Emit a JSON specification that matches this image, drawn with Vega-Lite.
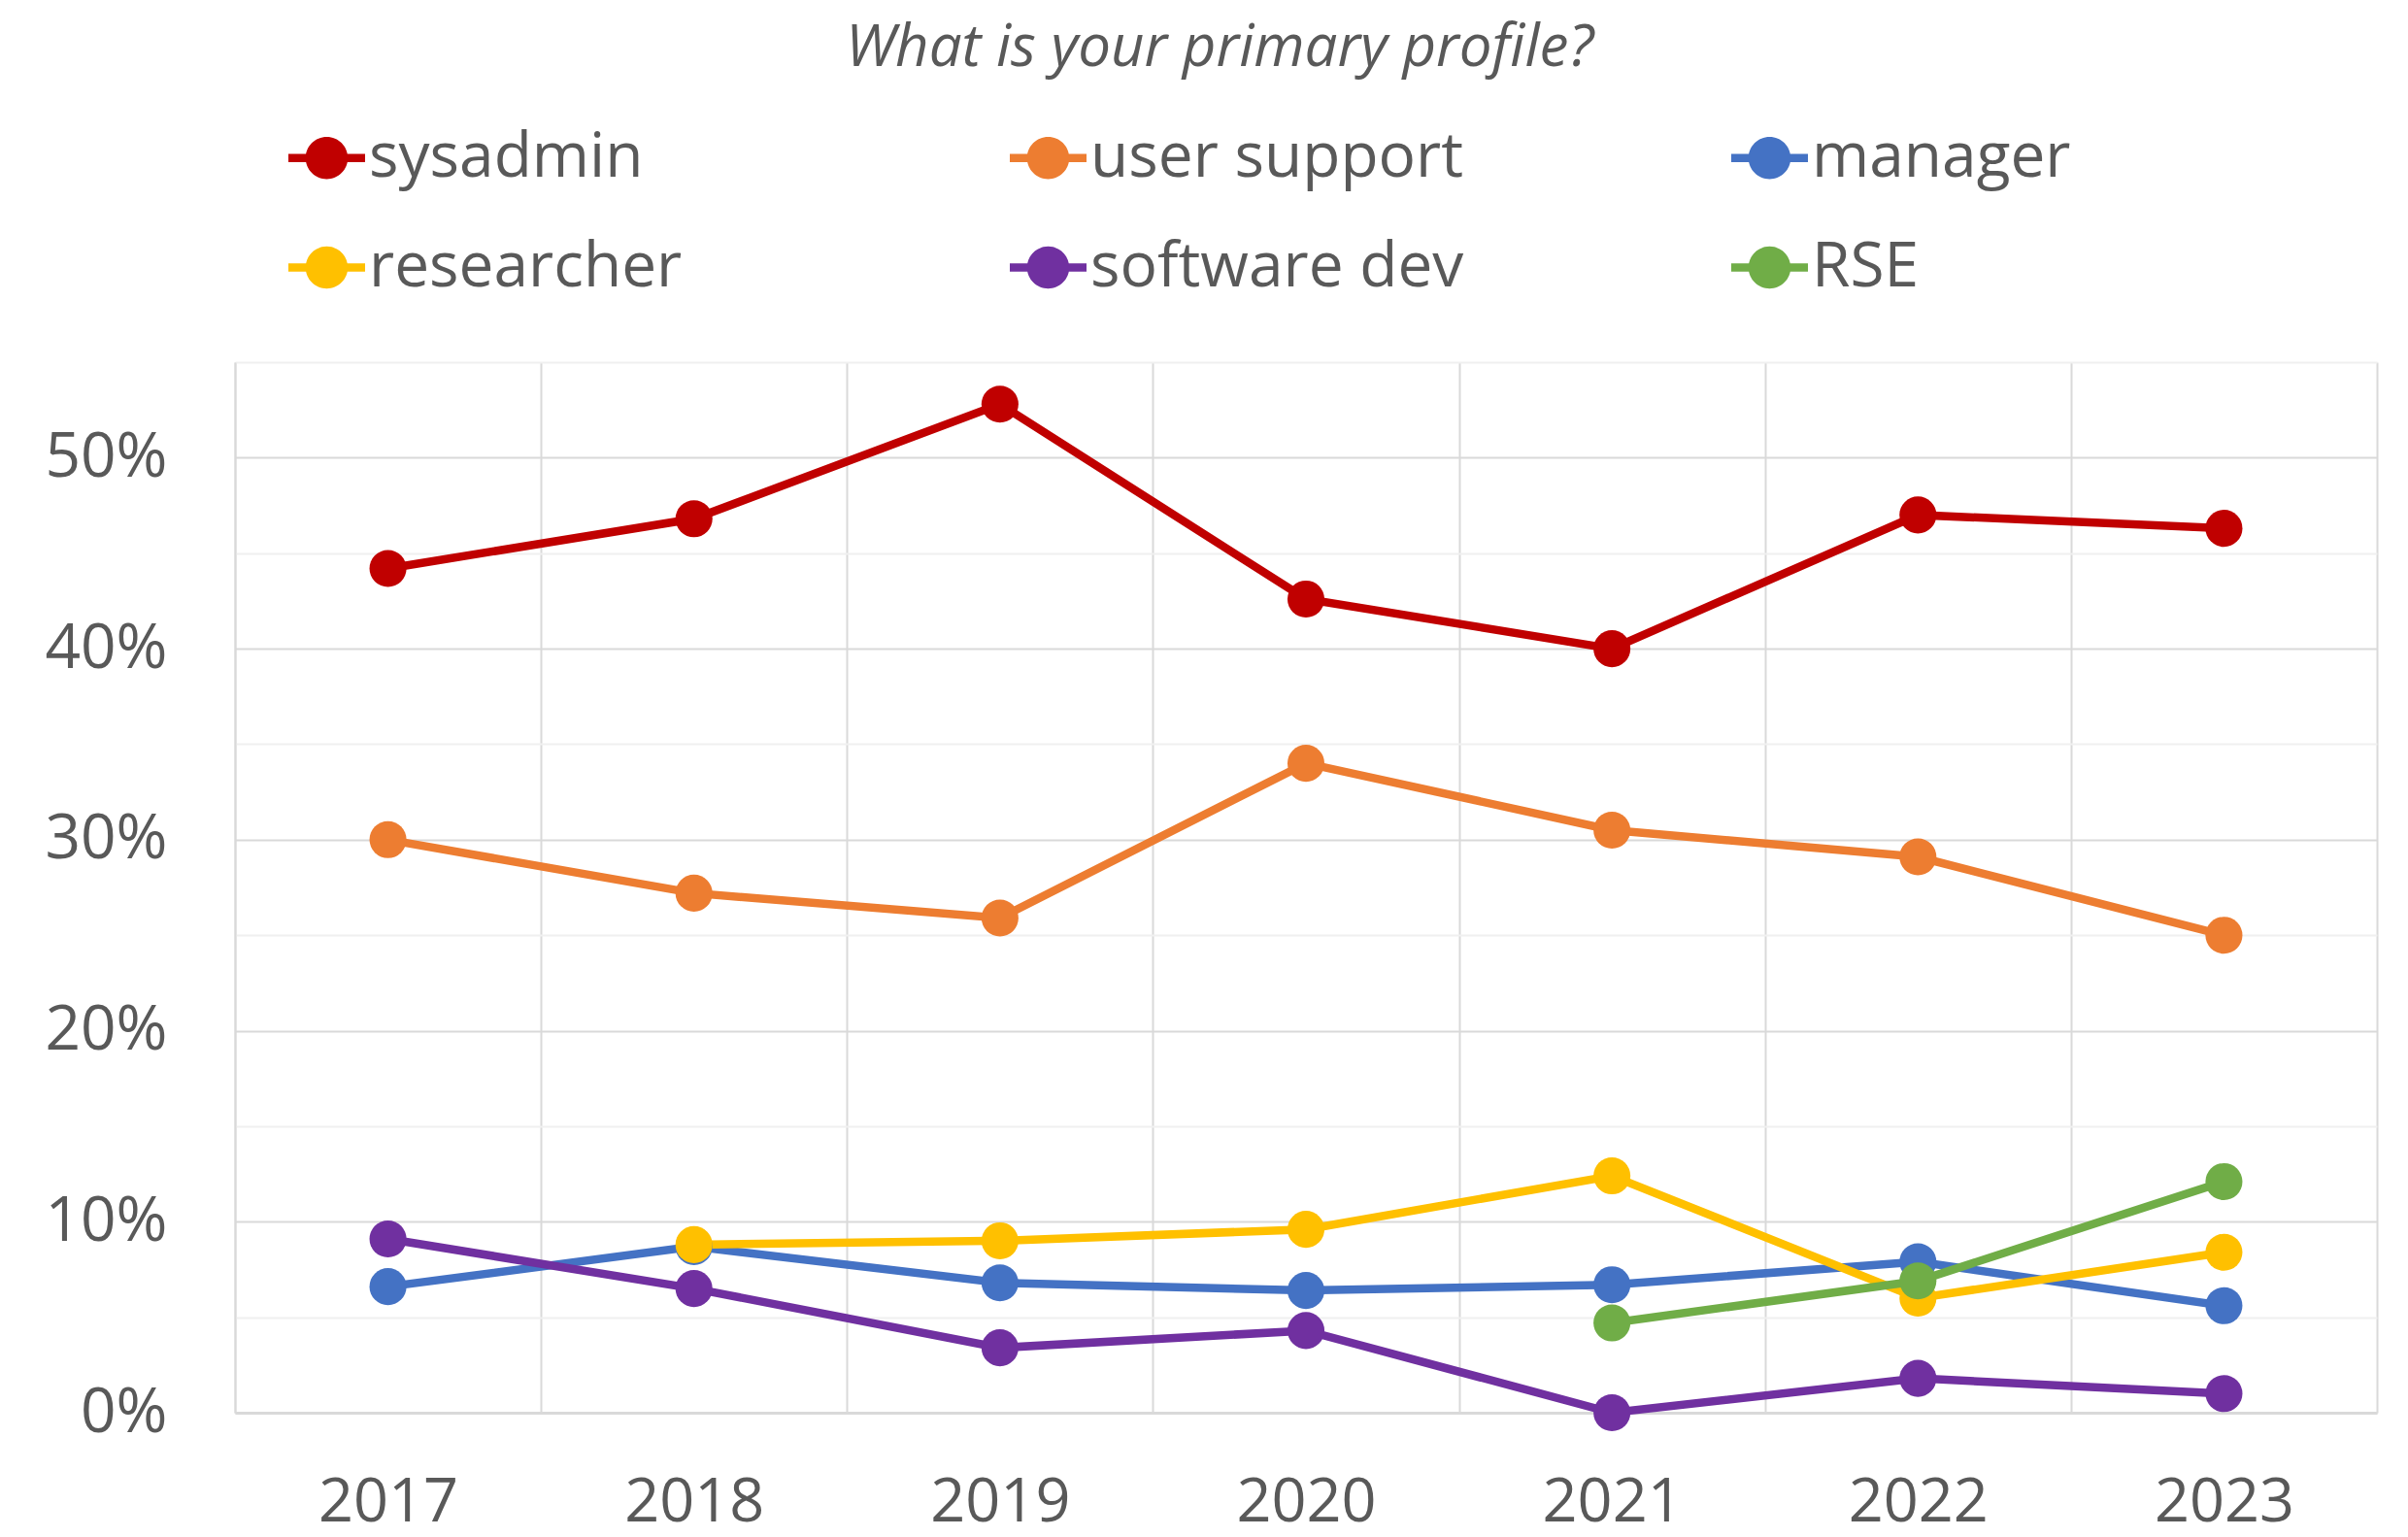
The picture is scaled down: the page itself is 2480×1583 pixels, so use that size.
{
  "$schema": "https://vega.github.io/schema/vega-lite/v6.json",
  "width": 2206,
  "height": 1082,
  "autosize": {"type": "none"},
  "padding": {"left": 242, "top": 373, "right": 32, "bottom": 128},
  "background": "white",
  "title": {
    "text": "What is your primary profile?",
    "font": "Open Sans",
    "fontSize": 60,
    "fontStyle": "italic",
    "fontWeight": "normal",
    "color": "#595959",
    "anchor": "middle",
    "frame": "group",
    "dx": -89,
    "offset": -5,
    "baseline": "alphabetic"
  },
  "config": {
    "view": {"stroke": null},
    "font": "Open Sans"
  },
  "data": {
    "values": [
      {"year": "2017", "profile": "sysadmin", "value": 0.442},
      {"year": "2018", "profile": "sysadmin", "value": 0.468},
      {"year": "2019", "profile": "sysadmin", "value": 0.528},
      {"year": "2020", "profile": "sysadmin", "value": 0.426},
      {"year": "2021", "profile": "sysadmin", "value": 0.400},
      {"year": "2022", "profile": "sysadmin", "value": 0.470},
      {"year": "2023", "profile": "sysadmin", "value": 0.463},
      {"year": "2017", "profile": "user support", "value": 0.300},
      {"year": "2018", "profile": "user support", "value": 0.272},
      {"year": "2019", "profile": "user support", "value": 0.259},
      {"year": "2020", "profile": "user support", "value": 0.340},
      {"year": "2021", "profile": "user support", "value": 0.305},
      {"year": "2022", "profile": "user support", "value": 0.291},
      {"year": "2023", "profile": "user support", "value": 0.250},
      {"year": "2017", "profile": "manager", "value": 0.066},
      {"year": "2018", "profile": "manager", "value": 0.087},
      {"year": "2019", "profile": "manager", "value": 0.068},
      {"year": "2020", "profile": "manager", "value": 0.064},
      {"year": "2021", "profile": "manager", "value": 0.067},
      {"year": "2022", "profile": "manager", "value": 0.079},
      {"year": "2023", "profile": "manager", "value": 0.056},
      {"year": "2018", "profile": "researcher", "value": 0.088},
      {"year": "2019", "profile": "researcher", "value": 0.090},
      {"year": "2020", "profile": "researcher", "value": 0.096},
      {"year": "2021", "profile": "researcher", "value": 0.124},
      {"year": "2022", "profile": "researcher", "value": 0.060},
      {"year": "2023", "profile": "researcher", "value": 0.084},
      {"year": "2017", "profile": "software dev", "value": 0.091},
      {"year": "2018", "profile": "software dev", "value": 0.065},
      {"year": "2019", "profile": "software dev", "value": 0.034},
      {"year": "2020", "profile": "software dev", "value": 0.043},
      {"year": "2021", "profile": "software dev", "value": 0.000},
      {"year": "2022", "profile": "software dev", "value": 0.018},
      {"year": "2023", "profile": "software dev", "value": 0.010},
      {"year": "2021", "profile": "RSE", "value": 0.047},
      {"year": "2022", "profile": "RSE", "value": 0.069},
      {"year": "2023", "profile": "RSE", "value": 0.121}
    ]
  },
  "encoding": {
    "x": {
      "field": "year",
      "type": "ordinal",
      "scale": {"type": "band", "paddingInner": 0, "paddingOuter": 0},
      "axis": {
        "title": null,
        "labelAngle": 0,
        "labelFont": "Open Sans",
        "labelFontSize": 63,
        "labelColor": "#595959",
        "labelPadding": 61,
        "labelBaseline": "top",
        "ticks": false,
        "tickSize": 0,
        "tickBand": "extent",
        "grid": true,
        "gridColor": "#D9D9D9",
        "gridWidth": 2,
        "domain": true,
        "domainColor": "#D9D9D9",
        "domainWidth": 3
      }
    },
    "y": {
      "field": "value",
      "type": "quantitative",
      "scale": {"domain": [0, 0.55], "nice": false, "zero": true},
      "axis": {
        "title": null,
        "values": [0, 0.05, 0.1, 0.15, 0.2, 0.25, 0.3, 0.35, 0.4, 0.45, 0.5, 0.55],
        "format": ".0%",
        "labelExpr": "round(datum.value * 100) % 10 == 0 ? datum.label : ''",
        "labelFont": "Open Sans",
        "labelFontSize": 64,
        "labelColor": "#595959",
        "labelPadding": 70,
        "ticks": false,
        "tickSize": 0,
        "domain": true,
        "domainColor": "#D9D9D9",
        "domainWidth": 2,
        "grid": true,
        "gridWidth": 2,
        "gridColor": {
          "condition": {"test": "round(datum.value * 100) % 10 == 0", "value": "#D9D9D9"},
          "value": "#F0F0F0"
        }
      }
    },
    "color": {
      "field": "profile",
      "type": "nominal",
      "scale": {
        "domain": ["sysadmin", "user support", "manager", "researcher", "software dev", "RSE"],
        "range": ["#C00000", "#ED7D31", "#4472C4", "#FFC000", "#7030A0", "#70AD47"]
      },
      "legend": {
        "title": null,
        "orient": "none",
        "legendX": 55,
        "legendY": -250,
        "direction": "horizontal",
        "columns": 3,
        "gridAlign": "all",
        "columnPadding": 275,
        "rowPadding": 41,
        "labelFont": "Open Sans",
        "labelFontSize": 64,
        "labelColor": "#595959",
        "labelOffset": 4,
        "labelLimit": 0,
        "symbolSize": 6241,
        "symbolType": "M-1,-0.11L1,-0.11L1,0.11L-1,0.11Z M0.55,0A0.55,0.55,0,1,1,-0.55,0A0.55,0.55,0,1,1,0.55,0Z",
        "symbolStrokeWidth": 0,
        "symbolOpacity": 1,
        "padding": 0,
        "encode": {
          "symbols": {
            "update": {
              "fill": {"scale": "color", "field": "value"},
              "strokeWidth": {"value": 0},
              "opacity": {"value": 1}
            }
          }
        }
      }
    }
  },
  "layer": [
    {
      "mark": {"type": "line", "strokeWidth": 8.5},
      "encoding": {}
    },
    {
      "mark": {"type": "point", "filled": true, "size": 1450, "opacity": 1, "shape": "circle"},
      "encoding": {}
    }
  ]
}
